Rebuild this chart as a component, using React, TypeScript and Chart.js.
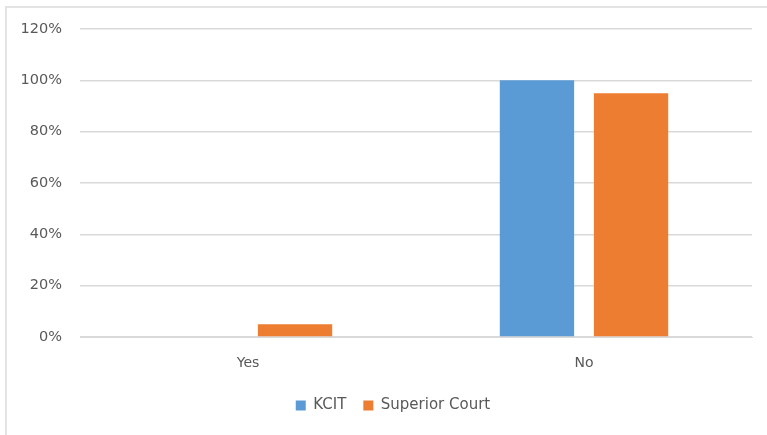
import React, { useEffect, useRef } from "react";
import { Chart, registerables } from "chart.js";

Chart.register(...registerables);

const categories = ["Yes", "No"];
const kcitValues = [0, 100];
const superiorCourtValues = [5, 95];
const seriesNames = ["KCIT", "Superior Court"];

const TEXT = "#595959";
const GRID = "#d9d9d9";
const FONT = "'DejaVu Sans', 'Liberation Sans', sans-serif";

// Nudges the bottom legend a little to the right of the default centring.
const legendShift = {
  id: "legendShift",
  afterLayout(chart: any) {
    const lg = chart.legend;
    if (lg) {
      lg.left += 17;
      lg.right += 17;
    }
  },
};

export default function App() {
  const canvasRef = useRef<HTMLCanvasElement | null>(null);

  useEffect(() => {
    if (!canvasRef.current) return;
    const chart = new Chart(canvasRef.current, {
      type: "bar",
      data: {
        labels: categories,
        datasets: [
          {
            label: seriesNames[0],
            data: kcitValues,
            backgroundColor: "#5B9BD5",
            categoryPercentage: 0.56,
            barPercentage: 0.79,
          },
          {
            label: seriesNames[1],
            data: superiorCourtValues,
            backgroundColor: "#ED7D31",
            categoryPercentage: 0.56,
            barPercentage: 0.79,
          },
        ],
      },
      options: {
        responsive: false,
        animation: false,
        layout: { padding: { top: 29, right: 15, bottom: 12, left: 0 } },
        plugins: {
          tooltip: { enabled: false },
          legend: {
            position: "bottom",
            labels: {
              boxWidth: 10,
              boxHeight: 10,
              padding: 17,
              color: TEXT,
              font: { family: FONT, size: 15 },
            },
          },
        },
        scales: {
          x: {
            grid: { display: false, drawTicks: false },
            border: { display: true, color: GRID },
            ticks: { color: TEXT, font: { family: FONT, size: 14 }, padding: 18 },
            afterFit: (scale: any) => {
              scale.height = 44;
            },
          },
          y: {
            min: 0,
            max: 120,
            ticks: {
              stepSize: 20,
              color: TEXT,
              padding: 18,
              font: { family: FONT, size: 14.5 },
              callback: (v: any) => v + "%",
            },
            grid: { color: GRID, lineWidth: 1.5, drawTicks: false },
            border: { display: false },
            afterFit: (scale: any) => {
              scale.width = 80;
            },
          },
        },
      },
      plugins: [legendShift],
    });
    return () => chart.destroy();
  }, []);

  return (
    <div
      style={{
        position: "fixed",
        left: 0,
        top: 0,
        width: 767,
        height: 435,
        background: "#fff",
        overflow: "hidden",
      }}
    >
      <div
        style={{
          position: "absolute",
          left: 5,
          top: 6,
          width: 800,
          height: 500,
          border: "2px solid #e3e3e3",
          boxSizing: "border-box",
        }}
      />
      <canvas
        ref={canvasRef}
        width={767}
        height={435}
        style={{ position: "absolute", left: 0, top: 0 }}
      />
    </div>
  );
}
